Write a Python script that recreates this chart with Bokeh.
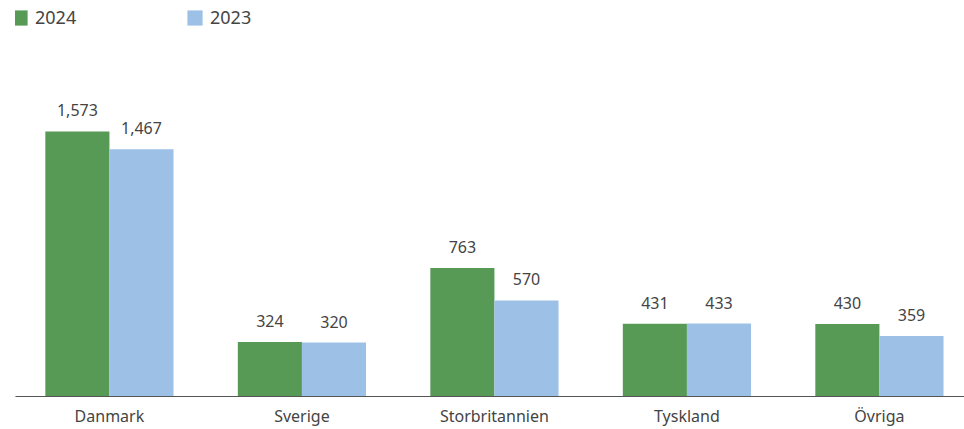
from bokeh.plotting import figure
from bokeh.models import ColumnDataSource, Range1d, FixedTicker, Legend, LegendItem, LabelSet
from bokeh.core.properties import value
from bokeh.embed import file_html
from bokeh.resources import INLINE

categories = ["Danmark", "Sverige", "Storbritannien", "Tyskland", "Övriga"]
series_names = ["2024", "2023"]
values_2024 = [1573, 324, 763, 431, 430]
values_2023 = [1467, 320, 570, 433, 359]

colors = ["#569A56", "#9DC1E6"]
FONT = "Noto Sans"
TXT = "#444444"

centers = [i + 0.5 for i in range(len(categories))]
bw = 0.333

p = figure(width=964, height=429, output_backend="svg", toolbar_location=None,
           x_range=Range1d(0.012, 4.942), y_range=Range1d(0, 2350),
           min_border_left=15, min_border_right=0, min_border_top=0, min_border_bottom=33)
p.outline_line_color = None
p.xgrid.visible = False
p.ygrid.visible = False
p.yaxis.visible = False

items = []
for k, (name, vals) in enumerate(zip(series_names, [values_2024, values_2023])):
    off = -bw / 2 if k == 0 else bw / 2
    src = ColumnDataSource(dict(x=[c + off for c in centers], top=vals,
                                lab=[f"{v:,}" for v in vals]))
    r = p.vbar(x="x", top="top", bottom=0, width=bw, source=src,
               fill_color=colors[k], line_color=None)
    items.append(LegendItem(label=name, renderers=[r]))
    p.add_layout(LabelSet(x="x", y="top", text="lab", source=src, y_offset=15,
                          text_align="center", text_baseline="alphabetic",
                          text_font=value(FONT), text_font_size="16px", text_color=TXT))

ax = p.xaxis[0]
ax.ticker = FixedTicker(ticks=centers)
ax.major_label_overrides = {c: n for c, n in zip(centers, categories)}
ax.major_tick_line_color = None
ax.minor_tick_line_color = None
ax.major_tick_out = 0
ax.major_tick_in = 0
ax.major_label_standoff = 8
ax.axis_line_color = "#555555"
ax.axis_line_width = 1.2
ax.major_label_text_font = FONT
ax.major_label_text_font_size = "16px"
ax.major_label_text_color = TXT

legend = Legend(items=items, location=(-5, 367), orientation="horizontal",
                glyph_width=19, glyph_height=19, label_standoff=6, label_width=150,
                spacing=0, padding=0, margin=0, border_line_color=None,
                background_fill_alpha=0,
                label_text_font=FONT, label_text_font_size="18px",
                label_text_color=TXT)
p.add_layout(legend)

open("out.html", "w").write(file_html(p, INLINE))
